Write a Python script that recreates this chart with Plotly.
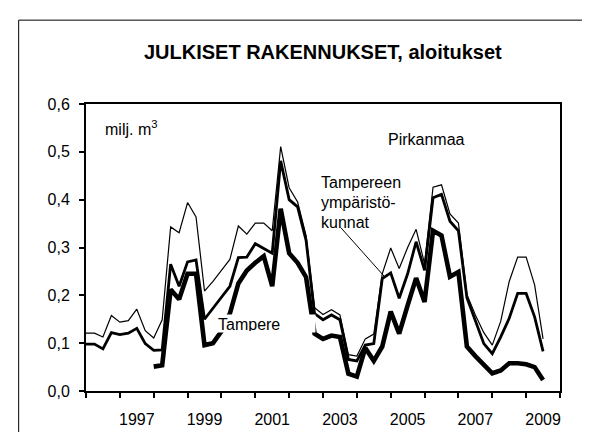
import plotly.graph_objects as go

# ---------------- data (quarterly, 1996Q1 ... 2009Q3) ----------------
start_year = 1996
pirkanmaa = [0.121, 0.121, 0.113, 0.158, 0.144, 0.147, 0.171, 0.126, 0.111, 0.149,
             0.343, 0.331, 0.394, 0.364, 0.209, 0.229, 0.252, 0.275, 0.345, 0.328,
             0.351, 0.351, 0.335, 0.511, 0.425, 0.395, 0.325, 0.174, 0.160, 0.170,
             0.159, 0.076, 0.073, 0.109, 0.119, 0.245, 0.299, 0.256, 0.300, 0.338,
             0.266, 0.426, 0.431, 0.370, 0.351, 0.202, 0.159, 0.122, 0.096, 0.146,
             0.229, 0.280, 0.280, 0.222, 0.109]
ymparistokunnat = [0.098, 0.098, 0.088, 0.122, 0.118, 0.121, 0.131, 0.099, 0.085, 0.086,
                   0.265, 0.219, 0.270, 0.274, 0.150, 0.172, 0.196, 0.219, 0.279, 0.280,
                   0.308, 0.298, 0.288, 0.481, 0.400, 0.385, 0.315, 0.162, 0.149, 0.159,
                   0.149, 0.066, 0.063, 0.096, 0.099, 0.235, 0.247, 0.194, 0.245, 0.312,
                   0.252, 0.404, 0.411, 0.355, 0.335, 0.195, 0.146, 0.099, 0.078, 0.113,
                   0.152, 0.204, 0.204, 0.155, 0.083]
tampere = [None, None, None, None, None, None, None, None, 0.051, 0.054,
           0.212, 0.192, 0.245, 0.245, 0.096, 0.100, 0.125, 0.162, 0.225, 0.252,
           0.268, 0.282, 0.219, 0.381, 0.288, 0.268, 0.238, 0.120, 0.109, 0.116,
           0.113, 0.036, 0.030, 0.090, 0.063, 0.093, 0.166, 0.120, 0.179, 0.236,
           0.186, 0.335, 0.325, 0.239, 0.249, 0.093, 0.073, 0.054, 0.037, 0.043,
           0.058, 0.058, 0.056, 0.050, 0.023]
quarters = [start_year + i / 4 for i in range(len(pirkanmaa))]

year_ticks = list(range(1996, 2011))
label_years = [1997, 1999, 2001, 2003, 2005, 2007, 2009]
y_ticks = [0.0, 0.1, 0.2, 0.3, 0.4, 0.5, 0.6]

title_text = "JULKISET RAKENNUKSET, aloitukset"
FONT = "Liberation Sans, Arial, sans-serif"

# ---------------- layout geometry (pixels) ----------------
W, H = 590, 432
L, R, T, B = 78.3, 552.0, 95.5, 396.7


def px(xp):
    return (xp - L) / (R - L)


def py(yp):
    return (B - yp) / (B - T)


fig = go.Figure()
fig.add_trace(go.Scatter(x=quarters, y=pirkanmaa, mode="lines", name="Pirkanmaa",
                         line=dict(color="black", width=1.2)))
fig.add_trace(go.Scatter(x=quarters, y=ymparistokunnat, mode="lines",
                         name="Tampereen ympäristökunnat",
                         line=dict(color="black", width=2.8)))
fig.add_trace(go.Scatter(x=quarters, y=tampere, mode="lines", name="Tampere",
                         line=dict(color="black", width=4.6), connectgaps=False))

fig.update_layout(
    width=W, height=H,
    margin=dict(l=L, r=W - R, t=T, b=H - B, pad=0),
    paper_bgcolor="white", plot_bgcolor="white",
    showlegend=False,
    separators=", ",
    font=dict(family=FONT, size=16, color="black"),
    title=dict(text="<b>" + title_text + "</b>", x=px(315), xref="paper",
               xanchor="center", y=1 - 44 / H, yanchor="middle", yref="container",
               font=dict(family=FONT, size=20, color="black")),
)

fig.update_xaxes(
    range=[1996, 2010],
    tickvals=[y + 0.5 for y in label_years],
    ticktext=[str(y) for y in label_years],
    ticks="outside", ticklen=5, tickcolor="rgba(0,0,0,0)",
    ticklabelstandoff=8,
    minor=dict(tickvals=year_ticks, ticks="outside", ticklen=5, tickwidth=1.5,
               tickcolor="black", showgrid=False),
    showline=True, linecolor="black", linewidth=2, mirror=True,
    showgrid=False, zeroline=False,
    tickfont=dict(family=FONT, size=16, color="black"),
)
fig.update_yaxes(
    range=[0, 0.6],
    tickvals=y_ticks, tickformat=".1f",
    ticks="outside", ticklen=5, tickwidth=1.5, tickcolor="black",
    ticklabelstandoff=6,
    showline=True, linecolor="black", linewidth=2, mirror=True,
    showgrid=False, zeroline=False,
    tickfont=dict(family=FONT, size=16, color="black"),
)

# outer chart frame
fig.add_shape(type="rect", xref="paper", yref="paper",
              x0=px(11), x1=px(620), y0=py(460), y1=py(7.5),
              line=dict(color="black", width=1), fillcolor="rgba(0,0,0,0)",
              layer="below")

# pointer from label to series
fig.add_shape(type="line", xref="x", yref="y",
              x0=2003.527, y0=0.3415, x1=2004.818, y1=0.239,
              line=dict(color="black", width=1))

ann_font = dict(family=FONT, size=16, color="black")
fig.add_annotation(text="milj. m<sup>3</sup>", xref="paper", yref="paper",
                   x=px(95), y=py(121), xanchor="left", yanchor="middle",
                   showarrow=False, font=ann_font)
fig.add_annotation(text="Pirkanmaa", xref="paper", yref="paper",
                   x=px(378), y=py(133), xanchor="left", yanchor="middle",
                   showarrow=False, font=ann_font)
for txt, yb in [("Tampereen", 183), ("ympäristö-", 204), ("kunnat", 225)]:
    fig.add_annotation(text=txt, xref="paper", yref="paper",
                       x=px(311), y=py(yb - 5), xanchor="left", yanchor="middle",
                       showarrow=False, font=ann_font)
# label box that hides part of the Tampere line (text clipped at its bottom)
fig.add_annotation(text="Tampere", xref="paper", yref="paper",
                   x=px(208), y=py(316), xanchor="left", yanchor="top",
                   width=96, height=15, borderpad=1, align="left", valign="top",
                   bgcolor="white", showarrow=False, font=ann_font)

fig.write_html("out.html")
